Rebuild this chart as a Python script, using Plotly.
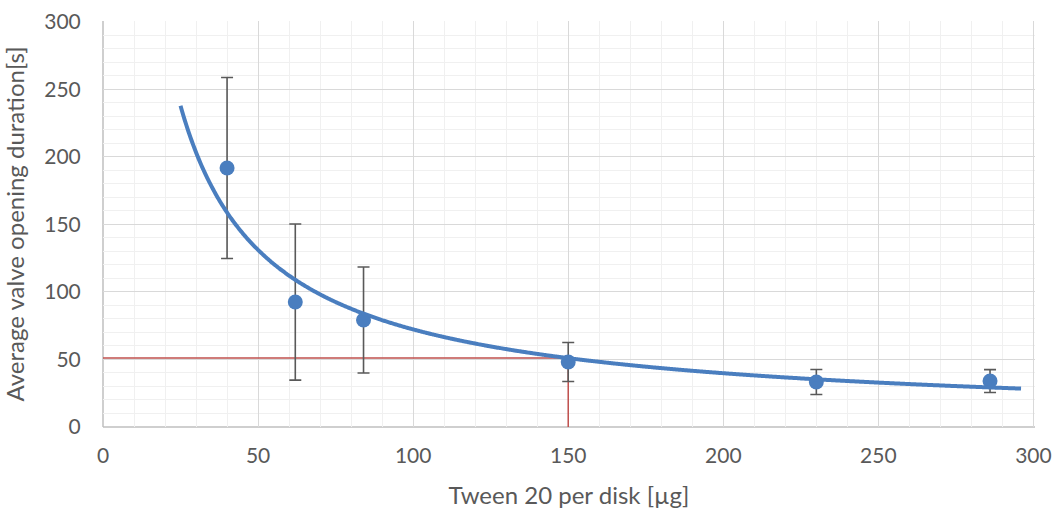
import numpy as np
import plotly.graph_objects as go

# Data
tween_ug = [40, 62, 84, 150, 230, 286]
duration_s = [191.7, 92.5, 79.2, 48.1, 33.3, 34.0]
error_s = [67.0, 57.8, 39.2, 14.4, 9.3, 8.5]

# Reference (red) lines
ref_x = 150
ref_y = 51

# Trendline x-range (Excel power trendline extent)
trend_start = 25
trend_end = 296

# Power-law fit (like Excel's power trendline: log-log least squares)
b, ln_a = np.polyfit(np.log(tween_ug), np.log(duration_s), 1)
xt = np.linspace(trend_start, trend_end, 600)
yt = np.exp(ln_a) * xt ** b

blue = "#4A7EBF"
font = "Lato"
grey = "#595959"

fig = go.Figure()
fig.add_trace(go.Scatter(
    x=[0, ref_x, ref_x], y=[ref_y, ref_y, 0], mode="lines",
    line=dict(color="#C0504D", width=1.5), hoverinfo="skip", showlegend=False))
fig.add_trace(go.Scatter(
    x=tween_ug, y=duration_s, mode="markers",
    marker=dict(color=blue, size=15),
    error_y=dict(type="data", array=error_s, visible=True, color=grey,
                 thickness=1.6, width=6),
    showlegend=False))
fig.add_trace(go.Scatter(
    x=xt, y=yt, mode="lines", line=dict(color=blue, width=4, shape="spline"),
    hoverinfo="skip", showlegend=False))

axis_common = dict(
    showgrid=True, gridcolor="#D9D9D9", gridwidth=1.3,
    zeroline=False, showline=False, automargin=False,
    tickfont=dict(family=font, size=21, color=grey),
    tickcolor="rgba(0,0,0,0)",
    minor=dict(dtick=10, showgrid=True, gridcolor="#F0F0F0", gridwidth=1.3),
)

fig.update_layout(
    width=1055, height=509,
    margin=dict(l=103, r=20, t=21, b=82),
    plot_bgcolor="white", paper_bgcolor="white",
    font=dict(family=font, color=grey),
    xaxis=dict(range=[0, 300.5], tick0=0, dtick=50, ticks="outside", ticklen=10,
               title=dict(text="Tween 20 per disk [µg]", font=dict(family=font, size=24, color=grey), standoff=22),
               **axis_common),
    yaxis=dict(range=[0, 300.5], tick0=0, dtick=50, ticks="outside", ticklen=17,
               title=dict(text="Average valve opening duration[s]", font=dict(family=font, size=24, color=grey), standoff=12),
               **axis_common),
)
# axis lines on left and bottom
fig.add_shape(type="line", xref="paper", yref="paper", x0=0, x1=1, y0=0, y1=0,
              line=dict(color="#BFBFBF", width=1.5), layer="below")
fig.add_shape(type="line", xref="paper", yref="paper", x0=0, x1=0, y0=0, y1=1,
              line=dict(color="#BFBFBF", width=1.5), layer="below")

fig.write_html("out.html", config={"displayModeBar": False},
               post_script="document.body.style.margin='0';document.body.style.overflow='hidden';")
